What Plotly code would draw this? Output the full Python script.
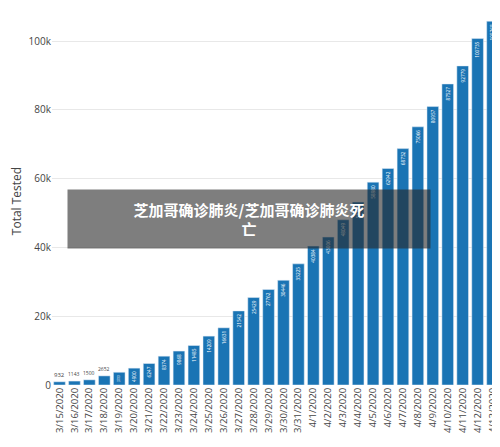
import plotly.graph_objects as go

dates = ["3/%d/2020" % d for d in range(15, 32)] + ["4/%d/2020" % d for d in range(1, 14)]
tested = [932, 1143, 1500, 2652, 3700, 4900, 6247, 8374, 9868, 11485, 14209, 16631, 21542,
          25429, 27762, 30446, 35225, 40384, 43006, 48049, 53200, 58980, 62942, 68732,
          75066, 80957, 87527, 92779, 100735, 105768]

inside = [str(v) if i >= 4 else "" for i, v in enumerate(tested)]

fig = go.Figure(go.Bar(
    x=dates, y=tested, marker_color="#1a74b4", text=inside,
    textposition="inside", textangle=-90, insidetextanchor="end",
    textfont=dict(color="white", size=5), width=0.78,
))

for i in range(4):
    fig.add_annotation(x=dates[i], y=tested[i], text=str(tested[i]), showarrow=False,
                       yshift=7, font=dict(size=5 if i else 6, color="#444"))

fig.add_annotation(xref="paper", yref="paper", x=0.44, y=0.45, showarrow=False,
                   text="<b>芝加哥确诊肺炎/芝加哥确诊肺炎死<br>亡</b>",
                   font=dict(size=15, color="white", family="Noto Sans CJK SC"),
                   bgcolor="rgba(40,40,40,0.6)", width=360, height=56, align="center")

fig.update_layout(
    width=500, height=447, plot_bgcolor="white", paper_bgcolor="white",
    margin=dict(l=44, r=8, t=9, b=70), showlegend=False, bargap=0.2,
    font=dict(family="Open Sans", color="#444"),
    yaxis=dict(title=dict(text="Total Tested", font=dict(size=12), standoff=4),
               tickvals=[0, 20000, 40000, 60000, 80000, 100000],
               ticktext=["0", "20k", "40k", "60k", "80k", "100k"],
               gridcolor="#e8e8e8", tickfont=dict(size=10), range=[0, 107000]),
    xaxis=dict(tickangle=-90, tickfont=dict(size=9.5), type="category"),
)
fig.write_html("out.html")
